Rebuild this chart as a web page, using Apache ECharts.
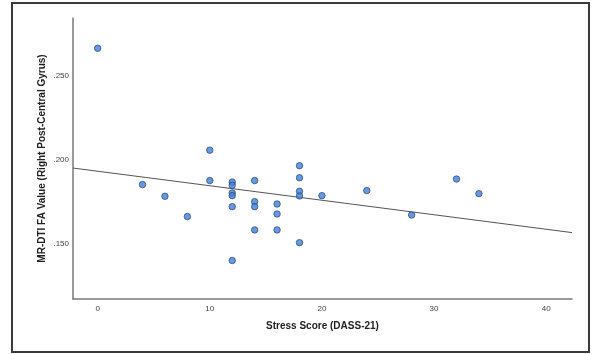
<!DOCTYPE html>
<html>
<head>
<meta charset="utf-8">
<script src="https://cdn.jsdelivr.net/npm/echarts@6/dist/echarts.min.js"></script>
<style>
html,body{margin:0;padding:0;background:#fff;}
#chart{width:592px;height:354px;}
</style>
</head>
<body>
<div id="chart"></div>
<script>
// Stress score (DASS-21) for each participant
const stressScores = [0, 4, 6, 8, 10, 10, 12, 12, 12, 12, 12, 12, 14, 14, 14, 14, 16, 16, 16, 18, 18, 18, 18, 18, 20, 24, 28, 32, 34];
// MR-DTI FA values (right post-central gyrus)
const faValues = [0.2666, 0.1851, 0.1781, 0.1660, 0.2057, 0.1875, 0.1866, 0.1847, 0.1801, 0.1785, 0.1719, 0.1397, 0.1875, 0.1749, 0.1719, 0.1580, 0.1735, 0.1675, 0.1580, 0.1964, 0.1892, 0.1811, 0.1783, 0.1504, 0.1785, 0.1815, 0.1669, 0.1884, 0.1797];
// Fit line endpoints
const fitX = [-2.2, 42.3];
const fitY = [0.1950, 0.1564];
// Axis tick values
const xTicks = [0, 10, 20, 30, 40];
const yTicks = [0.15, 0.20, 0.25];

const points = stressScores.map((x, i) => [x, faValues[i]]);
const fitLine = fitX.map((x, i) => [x, fitY[i]]);

const chart = echarts.init(document.getElementById('chart'), null, {renderer: 'canvas'});
const labelStyle = {fontFamily: 'Liberation Sans, Arial, sans-serif', fontSize: 8, color: '#444'};
const nameStyle = {fontFamily: 'Liberation Sans, Arial, sans-serif', fontSize: 10, fontWeight: 'bold', color: '#222'};
chart.setOption({
  animation: false,
  backgroundColor: '#fff',
  graphic: [{
    type: 'rect', shape: {x: 12, y: 3, width: 577, height: 349},
    style: {fill: 'none', stroke: '#3a3a3a', lineWidth: 2}, silent: true
  }],
  grid: {left: 73, right: 20, top: 18, bottom: 55, containLabel: false},
  xAxis: {
    type: 'value', min: -2.2, max: 42.3,
    name: 'Stress Score (DASS-21)', nameLocation: 'middle', nameGap: 22,
    nameTextStyle: nameStyle,
    axisLine: {show: true, onZero: false, lineStyle: {color: '#7a7a7a', width: 1.5}},
    axisTick: {show: false},
    splitLine: {show: false},
    axisLabel: Object.assign({margin: 6, customValues: xTicks,
      formatter: v => String(Math.round(v))}, labelStyle)
  },
  yAxis: {
    type: 'value', min: 0.1167, max: 0.2847,
    name: 'MR-DTI FA Value (Right Post-Central Gyrus)', nameLocation: 'middle', nameGap: 26,
    nameMoveOverlap: false,
    nameTextStyle: nameStyle,
    axisLine: {show: true, onZero: false, lineStyle: {color: '#7a7a7a', width: 1.5}},
    axisTick: {show: false},
    splitLine: {show: false},
    axisLabel: Object.assign({margin: 4, customValues: yTicks,
      formatter: v => '.' + v.toFixed(3).split('.')[1]}, labelStyle)
  },
  series: [
    {
      type: 'line', data: fitLine, symbol: 'none', silent: true,
      lineStyle: {color: '#555', width: 1}, z: 1
    },
    {
      type: 'scatter', data: points, symbol: 'circle', symbolSize: 6.5,
      itemStyle: {color: '#3f7fd8', borderColor: '#1e3a66', borderWidth: 0.8}, z: 2
    }
  ]
});
</script>
</body>
</html>
